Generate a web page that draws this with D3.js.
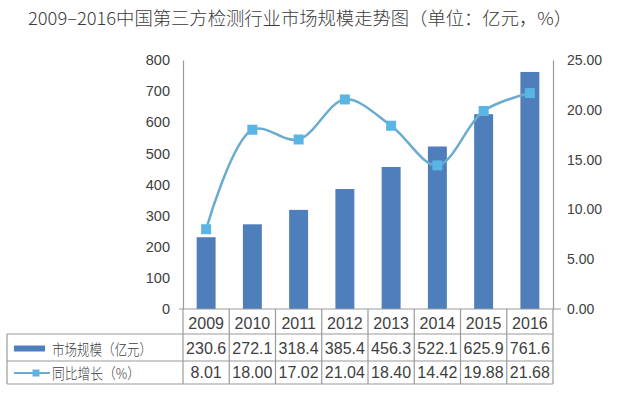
<!DOCTYPE html>
<html><head><meta charset="utf-8">
<script src="https://cdn.jsdelivr.net/npm/d3@7"></script>
<style>
body{margin:0;background:#fff;}
svg{display:block;font-family:"Liberation Sans",Arial,"Noto Sans CJK SC",sans-serif;}
</style></head>
<body><svg id="c" width="621" height="399"></svg>
<script>
const years = ["2009","2010","2011","2012","2013","2014","2015","2016"];
const marketSize = [230.6,272.1,318.4,385.4,456.3,522.1,625.9,761.6];
const growth = [8.01,18.00,17.02,21.04,18.40,14.42,19.88,21.68];
const growthLabels = ["8.01","18.00","17.02","21.04","18.40","14.42","19.88","21.68"];
const leftTicks = [0,100,200,300,400,500,600,700,800];
const rightTicks = [0,5,10,15,20,25];
const title = "2009–2016中国第三方检测行业市场规模走势图（单位：亿元，%）";
const seriesNames = ["市场规模（亿元）","同比增长（%）"];

const svg = d3.select("#c");
const barColor = "#4f7fba", lineColor = "#6aaccf", markColor = "#5ab5e4";
const gridColor = "#9a9a9a", textColor = "#404040";

const x = d3.scaleBand().domain(years).range([183,553]).paddingInner(0.59).paddingOuter(0.295);
const yL = d3.scaleLinear().domain([0,800]).range([309,60]);
const yR = d3.scaleLinear().domain([0,25]).range([309,60]);

// title
svg.append("text").attr("x",28).attr("y",25).attr("font-size",18).attr("fill","#3a3a3a")
  .attr("font-weight",300)
  .attr("textLength",544).attr("lengthAdjust","spacingAndGlyphs")
  .attr("font-family","'Noto Sans CJK SC','Liberation Sans',sans-serif").text(title);

// axes
const gL = svg.append("g").attr("transform","translate(183,0)")
  .call(d3.axisLeft(yL).tickValues(leftTicks).tickSize(0).tickPadding(13));
gL.select(".domain").attr("stroke",gridColor).attr("stroke-width",1.2);
gL.selectAll("text").attr("font-size",14.5).attr("fill",textColor).attr("font-family","'Liberation Sans',Arial,sans-serif");
svg.append("line").attr("x1",179).attr("x2",183).attr("y1",yL(0)).attr("y2",yL(0)).attr("stroke",gridColor);

const gR = svg.append("g").attr("transform","translate(553,0)")
  .call(d3.axisRight(yR).tickValues(rightTicks).tickFormat(d3.format(".2f")).tickSize(0).tickPadding(14));
gR.select(".domain").attr("stroke",gridColor).attr("stroke-width",1.2);
gR.selectAll("text").attr("font-size",14).attr("fill",textColor).attr("font-family","'Liberation Sans',Arial,sans-serif");
svg.append("line").attr("x1",553).attr("x2",561).attr("y1",yR(0)).attr("y2",yR(0)).attr("stroke",gridColor);

// bars
svg.append("g").selectAll("rect").data(years).join("rect")
  .attr("x",d=>x(d)).attr("width",x.bandwidth())
  .attr("y",(d,i)=>yL(marketSize[i])).attr("height",(d,i)=>yL(0)-yL(marketSize[i]))
  .attr("fill",barColor);

// line
const cx = d=>x(d)+x.bandwidth()/2;
const line = d3.line().x((d,i)=>cx(years[i])).y(d=>yR(d)).curve(d3.curveCatmullRom.alpha(0.5));
svg.append("path").datum(growth).attr("d",line).attr("fill","none").attr("stroke",lineColor).attr("stroke-width",2.5);
const ms = 10;
svg.append("g").selectAll("rect").data(growth).join("rect")
  .attr("x",(d,i)=>cx(years[i])-ms/2).attr("y",d=>yR(d)-ms/2).attr("width",ms).attr("height",ms)
  .attr("fill",markColor);

// table
const step = x.step();
const x0 = x.range()[0];
const rowY = [309,334,361,384];
const tg = svg.append("g").attr("stroke",gridColor).attr("stroke-width",1.2);
tg.append("line").attr("x1",x0).attr("x2",553).attr("y1",rowY[0]).attr("y2",rowY[0]);
[1,2,3].forEach(r=>tg.append("line").attr("x1",7).attr("x2",553).attr("y1",rowY[r]).attr("y2",rowY[r]));
tg.append("line").attr("x1",7).attr("x2",7).attr("y1",rowY[1]).attr("y2",rowY[3]);
d3.range(years.length+1).forEach(i=>tg.append("line").attr("x1",x0+i*step).attr("x2",x0+i*step).attr("y1",rowY[0]).attr("y2",rowY[3]));

const tt = svg.append("g").attr("font-size",16).attr("fill",textColor).attr("text-anchor","middle")
  .attr("font-family","'Liberation Sans',Arial,sans-serif");
years.forEach((y,i)=>{
  tt.append("text").attr("x",cx(y)).attr("y",329).text(y);
  tt.append("text").attr("x",cx(y)).attr("y",354).text(marketSize[i].toFixed(1));
  tt.append("text").attr("x",cx(y)).attr("y",378).text(growthLabels[i]);
});

// legend in table
svg.append("rect").attr("x",14).attr("y",345.5).attr("width",31).attr("height",6).attr("fill",barColor);
svg.append("line").attr("x1",14).attr("x2",50).attr("y1",373).attr("y2",373).attr("stroke",lineColor).attr("stroke-width",2);
svg.append("rect").attr("x",32.5).attr("y",369.5).attr("width",7).attr("height",7).attr("fill",markColor);
const lg = svg.append("g").attr("font-size",15).attr("fill",textColor).attr("font-weight",300)
  .attr("font-family","'Noto Sans CJK SC',sans-serif");
lg.append("text").attr("x",52).attr("y",355).attr("textLength",100).attr("lengthAdjust","spacingAndGlyphs").text(seriesNames[0]);
lg.append("text").attr("x",52).attr("y",379).attr("textLength",88).attr("lengthAdjust","spacingAndGlyphs").text(seriesNames[1]);
</script></body></html>
